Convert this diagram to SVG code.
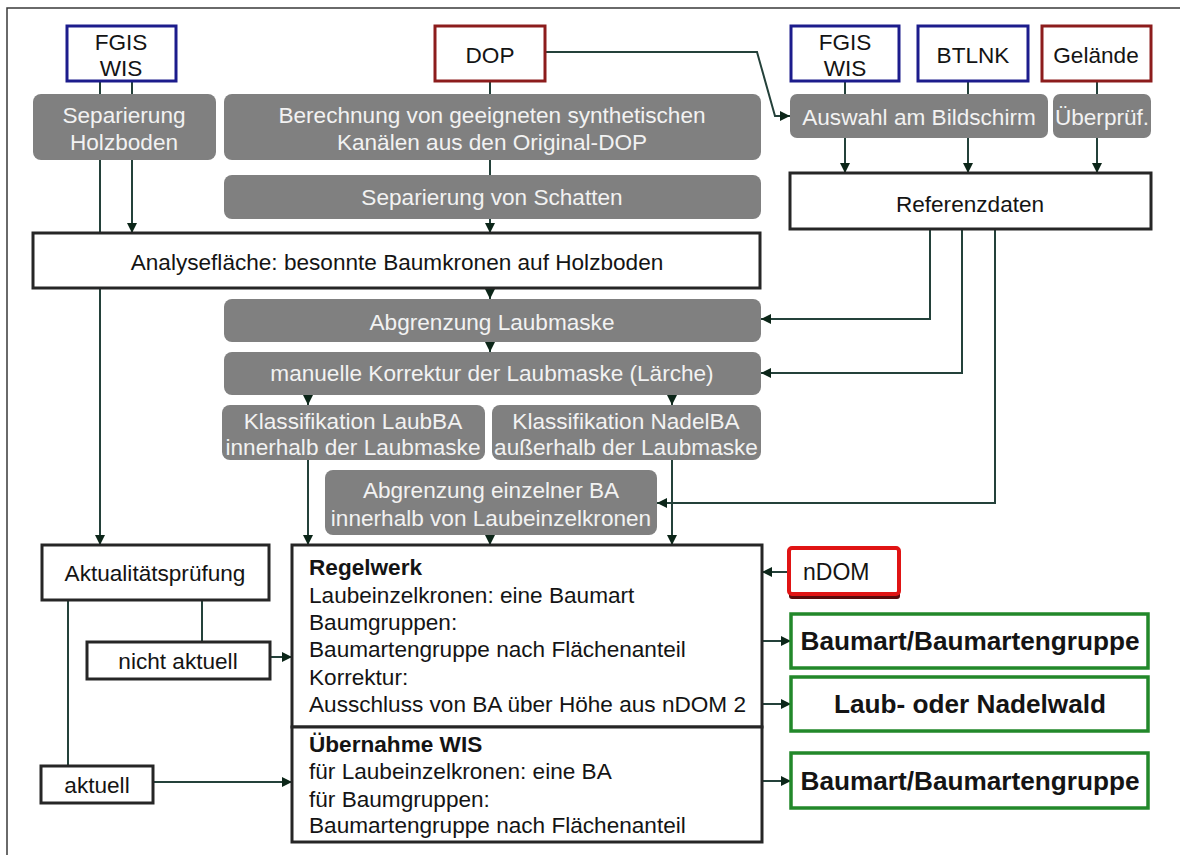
<svg xmlns="http://www.w3.org/2000/svg" width="1180" height="855" viewBox="0 0 1180 855">
  <style>
    text { font-family: "Liberation Sans", Arial, sans-serif; font-size: 22.6px; fill: #141414; }
    .g rect { fill: #808080; }
    .g text { fill: #f2f2f2; text-anchor: middle; }
    .w rect { fill: #ffffff; stroke: #262626; stroke-width: 3; }
    .w text { text-anchor: middle; }
    .src rect { fill: #ffffff; stroke-width: 3; }
    .src text { text-anchor: middle; }
    .blue rect { stroke: #1c1c8c; }
    .red rect { stroke: #8c1c1c; }
    .res rect { fill: #ffffff; stroke: #22882a; stroke-width: 3.5; }
    .res text { font-weight: bold; font-size: 26.2px; text-anchor: middle; }
    .rule text { text-anchor: start; }
    .rule .b { font-weight: bold; }
    .conn path { fill: none; stroke: #24413a; stroke-width: 2; }
    .frame { fill: none; stroke: #3a3a3a; stroke-width: 1.5; }
  </style>
  <defs>
    <marker id="arr" viewBox="0 0 10 10" refX="10" refY="5" markerWidth="10" markerHeight="10" markerUnits="userSpaceOnUse" orient="auto">
      <path d="M0,0 L10,5 L0,10 z" fill="#0c2619"/>
    </marker>
  </defs>

  <rect width="1180" height="855" fill="#ffffff"/>
  <path class="frame" d="M7,855 V8 H1180"/>

  <!-- connectors -->
  <g id="connectors" class="conn">
    <path d="M100,81 V94"/>
    <path d="M132,81 V94"/>
    <path d="M100,160 V545" marker-end="url(#arr)"/>
    <path d="M132,160 V233" marker-end="url(#arr)"/>
    <path d="M490,81 V94"/>
    <path d="M490,160 V175"/>
    <path d="M490,219 V233" marker-end="url(#arr)"/>
    <path d="M545,52 H757 L775,116 H790" marker-end="url(#arr)"/>
    <path d="M845,81 V94"/>
    <path d="M968,81 V94"/>
    <path d="M1097,81 V94"/>
    <path d="M845,138 V173" marker-end="url(#arr)"/>
    <path d="M968,138 V173" marker-end="url(#arr)"/>
    <path d="M1097,138 V173" marker-end="url(#arr)"/>
    <path d="M930,229 V319 H761" marker-end="url(#arr)"/>
    <path d="M962,229 V373 H761" marker-end="url(#arr)"/>
    <path d="M995,229 V503 H657" marker-end="url(#arr)"/>
    <path d="M490,288 V299" marker-end="url(#arr)"/>
    <path d="M490,342 V352" marker-end="url(#arr)"/>
    <path d="M308,395 V405" marker-end="url(#arr)"/>
    <path d="M672,395 V405" marker-end="url(#arr)"/>
    <path d="M308,460 V545" marker-end="url(#arr)"/>
    <path d="M672,460 V545" marker-end="url(#arr)"/>
    <path d="M490,535 V545" marker-end="url(#arr)"/>
    <path d="M68,600 V766"/>
    <path d="M202,600 V642"/>
    <path d="M270,657 H292" marker-end="url(#arr)"/>
    <path d="M153,782 H292" marker-end="url(#arr)"/>
    <path d="M788,572 H762" marker-end="url(#arr)"/>
    <path d="M762,641 H791" marker-end="url(#arr)"/>
    <path d="M762,704 H791" marker-end="url(#arr)"/>
    <path d="M762,781 H791" marker-end="url(#arr)"/>
  </g>

  <!-- data sources -->
  <g id="fgis-left" class="src blue">
    <rect x="67" y="26" width="109" height="55"/>
    <text x="121" y="50">FGIS</text>
    <text x="121" y="76">WIS</text>
  </g>
  <g id="dop" class="src red">
    <rect x="435" y="26" width="110" height="55"/>
    <text x="490" y="63">DOP</text>
  </g>
  <g id="fgis-right" class="src blue">
    <rect x="791" y="26" width="108" height="55"/>
    <text x="845" y="50">FGIS</text>
    <text x="845" y="76">WIS</text>
  </g>
  <g id="btlnk" class="src blue">
    <rect x="918" y="26" width="110" height="55"/>
    <text x="973" y="63">BTLNK</text>
  </g>
  <g id="gelaende" class="src red">
    <rect x="1042" y="26" width="109" height="55"/>
    <text x="1096" y="63">Gelände</text>
  </g>

  <!-- processing steps -->
  <g id="sep-holzboden" class="g">
    <rect x="33" y="94" width="183" height="66" rx="8"/>
    <text x="124" y="123">Separierung</text>
    <text x="124" y="150">Holzboden</text>
  </g>
  <g id="berechnung" class="g">
    <rect x="224" y="94" width="537" height="66" rx="8"/>
    <text x="492" y="123">Berechnung von geeigneten synthetischen</text>
    <text x="492" y="150">Kanälen aus den Original-DOP</text>
  </g>
  <g id="sep-schatten" class="g">
    <rect x="224" y="175" width="537" height="44" rx="8"/>
    <text x="492" y="205">Separierung von Schatten</text>
  </g>
  <g id="auswahl" class="g">
    <rect x="790" y="94" width="258" height="44" rx="7"/>
    <text x="919" y="125">Auswahl am Bildschirm</text>
  </g>
  <g id="ueberpruef" class="g">
    <rect x="1053" y="94" width="98" height="44" rx="7"/>
    <text x="1102" y="125">Überprüf.</text>
  </g>
  <g id="referenzdaten" class="w">
    <rect x="790" y="173" width="361" height="56"/>
    <text x="970" y="212">Referenzdaten</text>
  </g>
  <g id="analyseflaeche" class="w">
    <rect x="33" y="233" width="727" height="55"/>
    <text x="397" y="270">Analysefläche: besonnte Baumkronen auf Holzboden</text>
  </g>
  <g id="laubmaske" class="g">
    <rect x="224" y="299" width="537" height="43" rx="8"/>
    <text x="492" y="330">Abgrenzung Laubmaske</text>
  </g>
  <g id="korrektur" class="g">
    <rect x="224" y="352" width="537" height="43" rx="8"/>
    <text x="492" y="381">manuelle Korrektur der Laubmaske (Lärche)</text>
  </g>
  <g id="klass-laub" class="g">
    <rect x="222" y="405" width="263" height="55" rx="8"/>
    <text x="353" y="429">Klassifikation LaubBA</text>
    <text x="353" y="455">innerhalb der Laubmaske</text>
  </g>
  <g id="klass-nadel" class="g">
    <rect x="492" y="405" width="269" height="55" rx="8"/>
    <text x="626" y="429">Klassifikation NadelBA</text>
    <text x="626" y="455">außerhalb der Laubmaske</text>
  </g>
  <g id="einzel-ba" class="g">
    <rect x="325" y="470" width="332" height="65" rx="8"/>
    <text x="491" y="498">Abgrenzung einzelner BA</text>
    <text x="491" y="526">innerhalb von Laubeinzelkronen</text>
  </g>

  <!-- currency check -->
  <g id="aktualitaet" class="w">
    <rect x="42" y="545" width="227" height="55"/>
    <text x="155" y="581">Aktualitätsprüfung</text>
  </g>
  <g id="nicht-aktuell" class="w">
    <rect x="87" y="642" width="183" height="37"/>
    <text x="178" y="669">nicht aktuell</text>
  </g>
  <g id="aktuell" class="w">
    <rect x="41" y="766" width="112" height="37"/>
    <text x="97" y="793">aktuell</text>
  </g>

  <!-- rule sets -->
  <g id="regelwerk" class="w rule">
    <rect x="292" y="545" width="470" height="182"/>
    <text class="b" x="309" y="575">Regelwerk</text>
    <text x="309" y="603">Laubeinzelkronen: eine Baumart</text>
    <text x="309" y="630">Baumgruppen:</text>
    <text x="309" y="657">Baumartengruppe nach Flächenanteil</text>
    <text x="309" y="685">Korrektur:</text>
    <text x="309" y="712">Ausschluss von BA über Höhe aus nDOM 2</text>
  </g>
  <g id="uebernahme" class="w rule">
    <rect x="292" y="727" width="470" height="115"/>
    <text class="b" x="309" y="752">Übernahme WIS</text>
    <text x="309" y="779">für Laubeinzelkronen: eine BA</text>
    <text x="309" y="807">für Baumgruppen:</text>
    <text x="309" y="833">Baumartengruppe nach Flächenanteil</text>
  </g>

  <!-- height model -->
  <g id="ndom">
    <rect x="789" y="553" width="111" height="46" rx="3" fill="#5a0a0a"/>
    <rect x="789" y="548" width="110" height="46" rx="3" fill="#ffffff" stroke="#e01414" stroke-width="4"/>
    <text x="803" y="580" style="font-size:23px">nDOM</text>
  </g>

  <!-- results -->
  <g id="ergebnis-1" class="res">
    <rect x="791" y="614" width="357" height="54"/>
    <text x="970" y="650">Baumart/Baumartengruppe</text>
  </g>
  <g id="ergebnis-2" class="res">
    <rect x="791" y="677" width="357" height="54"/>
    <text x="970" y="713">Laub- oder Nadelwald</text>
  </g>
  <g id="ergebnis-3" class="res">
    <rect x="791" y="753" width="357" height="55"/>
    <text x="970" y="790">Baumart/Baumartengruppe</text>
  </g>
</svg>
